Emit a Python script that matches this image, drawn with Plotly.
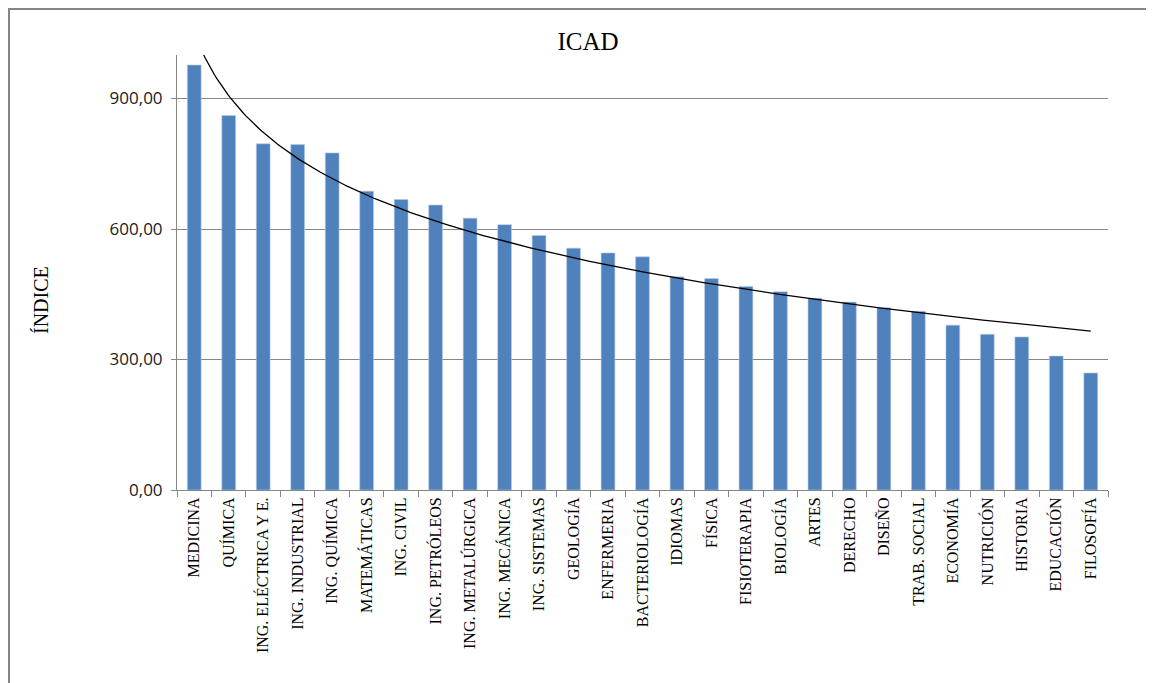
import numpy as np
import plotly.graph_objects as go

carreras = ["MEDICINA", "QUÍMICA", "ING. ELÉCTRICA Y E.", "ING. INDUSTRIAL", "ING. QUÍMICA",
            "MATEMÁTICAS", "ING. CIVIL", "ING. PETRÓLEOS", "ING. METALÚRGICA", "ING. MECÁNICA",
            "ING. SISTEMAS", "GEOLOGÍA", "ENFERMERIA", "BACTERIOLOGÍA", "IDIOMAS", "FÍSICA",
            "FISIOTERAPIA", "BIOLOGÍA", "ARTES", "DERECHO", "DISEÑO", "TRAB. SOCIAL",
            "ECONOMÍA", "NUTRICIÓN", "HISTORIA", "EDUCACIÓN", "FILOSOFÍA"]
icad = [977, 861, 796, 794, 775, 687, 668, 655, 625, 610, 585, 556, 545, 536, 490, 486,
        468, 456, 441, 432, 419, 411, 379, 358, 352, 308, 269]
y_ticks = [0, 300, 600, 900]

# tendencia logaritmica (como la de Excel)
pos = np.arange(len(carreras))
a, b = np.polyfit(np.log(pos + 1), icad, 1)
xt = np.linspace(0, len(carreras) - 1, 400)
yt = a * np.log(xt + 1) + b

fig = go.Figure()
fig.add_trace(go.Bar(x=pos, y=icad, marker=dict(color="#4F81BD", line=dict(color="#B9CDE5", width=0.6)),
                     width=0.4, name="ICAD"))
fig.add_trace(go.Scatter(x=xt, y=yt, mode="lines", line=dict(color="#000000", width=1.3), name="Tendencia"))

# la pagina tiene 8px de margen en el body
W, H = 1146, 675
L, R, T, B = 169, 46, 47, 193
pw, ph = W - L - R, H - T - B
fig.add_shape(type="rect", xref="paper", yref="paper",
              x0=(1 - L) / pw, x1=(1142 - L) / pw, y0=(H - B - 720) / ph, y1=(H - B - 1) / ph,
              line=dict(color="#868686", width=2))

fig.update_layout(
    width=W, height=H, margin=dict(l=L, r=R, t=T, b=B),
    paper_bgcolor="white", plot_bgcolor="white", showlegend=False,
    separators=",.",
    title=dict(text="ICAD", x=580 / W, xanchor="center", y=1 - 33 / H, yanchor="middle",
               font=dict(family="Liberation Serif", size=25, color="#000000")),
    annotations=[dict(text="ÍNDICE", xref="paper", yref="paper", x=(33 - L) / pw, y=(482 - 292) / ph,
                      xanchor="center", yanchor="middle",
                      textangle=-90, showarrow=False, font=dict(family="Liberation Serif", size=20, color="#000000"))],
)
fig.update_xaxes(range=[-0.5, len(carreras) - 0.5], tickvals=pos, ticktext=carreras, tickangle=-90,
                 ticks="", showline=True, linecolor="#868686", linewidth=1, showgrid=False, zeroline=False,
                 tickfont=dict(family="Liberation Serif", size=16, color="#000000"),
                 minor=dict(tick0=-0.5, dtick=1, ticks="outside", ticklen=6, tickcolor="#868686"))
fig.update_yaxes(range=[0, 1000], tickvals=y_ticks, tickformat=".2f", ticks="outside", ticklen=5,
                 tickcolor="#868686", showline=True, linecolor="#868686", linewidth=1,
                 showgrid=True, gridcolor="#868686", gridwidth=1, zeroline=False, ticklabelstandoff=5,
                 tickfont=dict(family="Open Sans", size=17, color="#1a1a1a"))

fig.write_html("out.html")
